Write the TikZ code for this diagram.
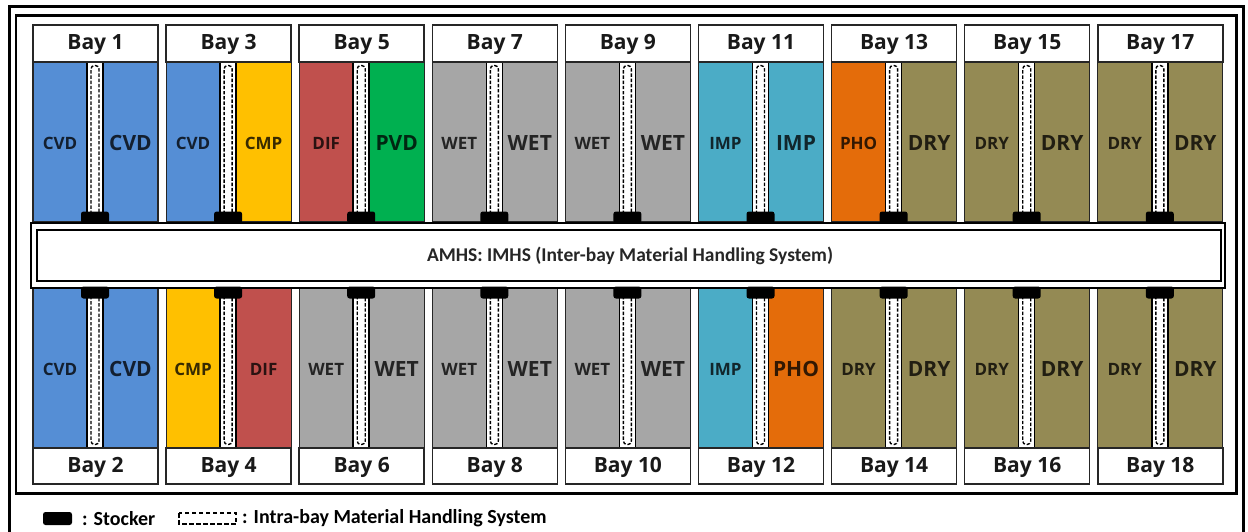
\documentclass[tikz,border=0pt]{standalone}
\usepackage{fontspec}
\setmainfont{Open Sans}
\newfontfamily\calib{Carlito}
\definecolor{cvd}{RGB}{85,142,213}
\definecolor{cmp}{RGB}{255,192,0}
\definecolor{dif}{RGB}{192,80,77}
\definecolor{pvd}{RGB}{0,176,80}
\definecolor{wet}{RGB}{166,166,166}
\definecolor{imp}{RGB}{75,172,198}
\definecolor{pho}{RGB}{228,108,10}
\definecolor{dry}{RGB}{148,138,84}
\begin{document}
\begin{tikzpicture}[x=1pt,y=-1pt,
  bayhead/.style={fill=white,draw=black!85,line width=1.5pt},
  area/.style={draw=black!85,line width=1.2pt},
  trackbox/.style={fill=white,draw=black,line width=1.5pt},
  loop/.style={draw=black,line width=1.4pt,dash pattern=on 3.4pt off 1.8pt,rounded corners=3.5pt},
  stocker/.style={fill=black,rounded corners=2.5pt},
  baytxt/.style={font=\bfseries\fontsize{21}{23}\selectfont,text=black!90},
  sm/.style={font=\bfseries\fontsize{17}{19}\selectfont},
  bg/.style={font=\bfseries\fontsize{21}{23}\selectfont},
  band/.style={draw=black,line width=2pt},
  legtxt/.style={font=\calib\bfseries\fontsize{20}{22}\selectfont,anchor=west,inner sep=0pt}
]
\useasboundingbox (0,0) rectangle (1248,531);
\fill[white] (0,0) rectangle (1248,531);
% frames
\draw[line width=3pt] (9.5,6.5) rectangle (1243.5,548);
\draw[line width=2.5pt] (16,15.5) rectangle (1236.5,493.5);
% top bays
\foreach \k/\n/\lt/\lc/\ls/\rt/\rc/\rs in {
  0/1/CVD/cvd/sm/CVD/cvd/bg,
  1/3/CVD/cvd/sm/CMP/cmp/sm,
  2/5/DIF/dif/sm/PVD/pvd/bg,
  3/7/WET/wet/sm/WET/wet/bg,
  4/9/WET/wet/sm/WET/wet/bg,
  5/11/IMP/imp/sm/IMP/imp/bg,
  6/13/PHO/pho/sm/DRY/dry/bg,
  7/15/DRY/dry/sm/DRY/dry/bg,
  8/17/DRY/dry/sm/DRY/dry/bg}{
  \pgfmathsetmacro\bx{33+133.1*\k}
  \fill[\lc] (\bx,62) rectangle (\bx+54,222);
  \fill[\rc] (\bx+70,62) rectangle (\bx+125,222);
  \draw[area] (\bx,62) rectangle (\bx+125,222);
  \draw[trackbox] (\bx+54,62) rectangle (\bx+70,216);
  \draw[loop] (\bx+58,214) -- (\bx+58,65.5) -- (\bx+66,65.5) -- (\bx+66,214);
  \draw[bayhead] (\bx,25) rectangle (\bx+125,62);
  \node[baytxt] (bay\n) at (\bx+62.5,44.5) {Bay \n};
  \node[\ls,text=\lc!22!black] (l\n) at (\bx+27,143) {\lt};
  \node[\rs,text=\rc!22!black] (r\n) at (\bx+97.5,143) {\rt};
}
% bottom bays
\foreach \k/\n/\lt/\lc/\ls/\rt/\rc/\rs in {
  0/2/CVD/cvd/sm/CVD/cvd/bg,
  1/4/CMP/cmp/sm/DIF/dif/sm,
  2/6/WET/wet/sm/WET/wet/bg,
  3/8/WET/wet/sm/WET/wet/bg,
  4/10/WET/wet/sm/WET/wet/bg,
  5/12/IMP/imp/sm/PHO/pho/bg,
  6/14/DRY/dry/sm/DRY/dry/bg,
  7/16/DRY/dry/sm/DRY/dry/bg,
  8/18/DRY/dry/sm/DRY/dry/bg}{
  \pgfmathsetmacro\bx{33+133.1*\k}
  \fill[\lc] (\bx,288) rectangle (\bx+54,448);
  \fill[\rc] (\bx+70,288) rectangle (\bx+125,448);
  \draw[area] (\bx,288) rectangle (\bx+125,448);
  \draw[trackbox] (\bx+54,294) rectangle (\bx+70,448);
  \draw[loop] (\bx+58,296) -- (\bx+58,444.5) -- (\bx+66,444.5) -- (\bx+66,296);
  \draw[bayhead] (\bx,448) rectangle (\bx+125,484);
  \node[baytxt] (bay\n) at (\bx+62.5,467.5) {Bay \n};
  \node[\ls,text=\lc!22!black] (l\n) at (\bx+27,369) {\lt};
  \node[\rs,text=\rc!22!black] (r\n) at (\bx+97.5,369) {\rt};
}
% AMHS band
\draw[band,fill=white] (31,223) rectangle (1225,287.5);
\draw[band] (37,230) rectangle (1221,280.5);
\node[font=\calib\bfseries\fontsize{19.5}{21}\selectfont,text=black!85] (amhs) at (630,256) {AMHS: IMHS (Inter-bay Material Handling System)};
% stockers
\foreach \k in {0,...,8}{
  \pgfmathsetmacro\bx{33+133.1*\k}
  \fill[stocker] (\bx+48,211.5) rectangle (\bx+76,223.5);
  \fill[stocker] (\bx+48,286.5) rectangle (\bx+76,298.5);
}
% legend
\fill[stocker] (43,512) rectangle (72,525);
\node[legtxt] (legstock) at (82,518.5) {: Stocker};
\draw[line width=1.3pt,dash pattern=on 4.5pt off 2.5pt] (179,513) rectangle (236,524);
\node[legtxt] (legintra) at (242,518.5) {: Intra-bay Material Handling System};
\end{tikzpicture}
\end{document}
